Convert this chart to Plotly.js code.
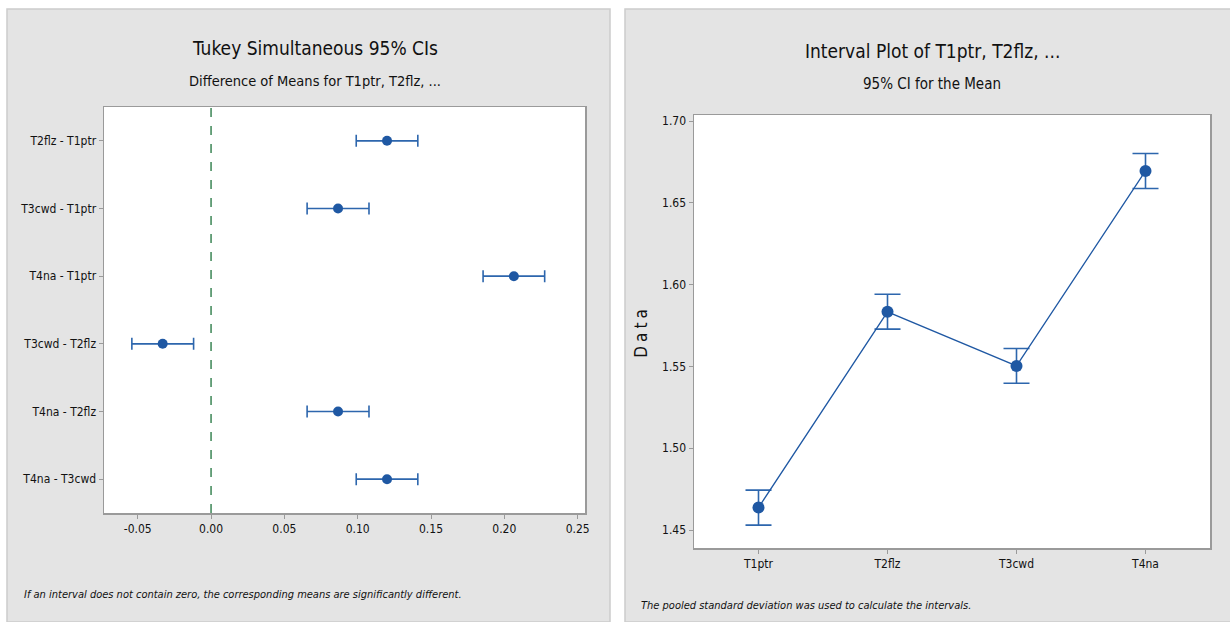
<!DOCTYPE html>
<html><head><meta charset="utf-8">
<script src="https://cdn.plot.ly/plotly-3.0.1.min.js"></script>
<style>html,body{margin:0;padding:0;background:#fff}#c{width:1230px;height:622px}</style>
</head><body><div id="c"></div>
<script>
// Tukey comparisons (left panel)
const pairs = ["T2flz - T1ptr","T3cwd - T1ptr","T4na - T1ptr","T3cwd - T2flz","T4na - T2flz","T4na - T3cwd"];
const diffs = [0.1200, 0.0866, 0.2065, -0.0330, 0.0866, 0.1200];
const diffLow = [0.0990, 0.0655, 0.1855, -0.0540, 0.0655, 0.0990];
const diffHigh = [0.1410, 0.1077, 0.2275, -0.0119, 0.1077, 0.1410];
const diffTicks = [-0.05, 0.00, 0.05, 0.10, 0.15, 0.20, 0.25];
const diffTickText = ["-0.05","0.00","0.05","0.10","0.15","0.20","0.25"];

// Interval plot (right panel)
const groups = ["T1ptr","T2flz","T3cwd","T4na"];
const means = [1.4637, 1.5834, 1.5503, 1.6695];
const ciLow = [1.4530, 1.5728, 1.5397, 1.6588];
const ciHigh = [1.4744, 1.5941, 1.5610, 1.6802];
const dataTicks = [1.45, 1.50, 1.55, 1.60, 1.65, 1.70];
const dataTickText = ["1.45","1.50","1.55","1.60","1.65","1.70"];

const FONT = "'DejaVu Sans Condensed', Roboto, sans-serif";
const BLUE = "#1f58a3";
const W = 1230, H = 622;
const px = x => x / W, py = y => 1 - y / H;

const t1 = {
  type: "scatter", mode: "markers", x: diffs, y: pairs, xaxis: "x", yaxis: "y",
  marker: {color: BLUE, size: 10},
  error_x: {type: "data", symmetric: false,
    array: diffs.map((d,i) => diffHigh[i] - d), arrayminus: diffs.map((d,i) => d - diffLow[i]),
    color: "#2d66ad", thickness: 1.6, width: 6},
  hoverinfo: "x+y", showlegend: false
};
const t2 = {
  type: "scatter", mode: "lines+markers", x: groups, y: means, xaxis: "x2", yaxis: "y2",
  line: {color: BLUE, width: 1.3},
  marker: {color: BLUE, size: 12},
  error_y: {type: "data", symmetric: false,
    array: means.map((m,i) => ciHigh[i] - m), arrayminus: means.map((m,i) => m - ciLow[i]),
    color: "#2d66ad", thickness: 1.6, width: 13},
  showlegend: false
};

const axCommon = {
  showgrid: false, zeroline: false, showline: true, mirror: true,
  linecolor: "#9a9a9a", linewidth: 1.5,
  ticks: "outside", ticklen: 4, tickcolor: "#9a9a9a", tickwidth: 1,
  tickfont: {family: FONT, size: 12, color: "#111"}
};

function ann(x, y, text, size, anchor) {
  return {xref: "paper", yref: "paper", x: px(x), y: py(y), text: text, showarrow: false,
    xanchor: anchor || "center", yanchor: "middle", font: {family: FONT, size: size, color: "#111"}};
}

const layout = {
  width: W, height: H, margin: {l: 0, r: 0, t: 0, b: 0},
  paper_bgcolor: "#ffffff", plot_bgcolor: "#ffffff", showlegend: false,
  xaxis: Object.assign({}, axCommon, {domain: [px(104), px(585)], anchor: "y",
    range: [-0.073, 0.255], tickvals: diffTicks, ticktext: diffTickText}),
  yaxis: Object.assign({}, axCommon, {domain: [py(513), py(107)], anchor: "x",
    type: "category", categoryorder: "array", categoryarray: pairs,
    range: [5.5, -0.5]}),
  xaxis2: Object.assign({}, axCommon, {domain: [px(694), px(1210)], anchor: "y2",
    type: "category", range: [-0.5, 3.5]}),
  yaxis2: Object.assign({}, axCommon, {domain: [py(548), py(115)], anchor: "x2",
    range: [1.439, 1.7037], tickvals: dataTicks, ticktext: dataTickText,
    title: {text: "Data", font: {family: FONT, size: 17, color: "#111"}, standoff: 10}}),
  shapes: [
    {type: "rect", xref: "paper", yref: "paper", x0: px(7), x1: px(610), y0: 0, y1: py(9),
      fillcolor: "#e4e4e4", line: {color: "#cccccc", width: 1.5}, layer: "below"},
    {type: "rect", xref: "paper", yref: "paper", x0: px(625), x1: 1.01, y0: 0, y1: py(9),
      fillcolor: "#e4e4e4", line: {color: "#cccccc", width: 1.5}, layer: "below"},
    {type: "rect", xref: "paper", yref: "paper", x0: px(104), x1: px(585), y0: py(513), y1: py(107),
      fillcolor: "#ffffff", line: {width: 0}, layer: "below"},
    {type: "rect", xref: "paper", yref: "paper", x0: px(694), x1: px(1210), y0: py(548), y1: py(115),
      fillcolor: "#ffffff", line: {width: 0}, layer: "below"},
    {type: "line", xref: "x", yref: "y domain", x0: 0, x1: 0, y0: 0, y1: 1,
      line: {color: "#2e7d4a", width: 1.4, dash: "dash"}, layer: "above"}
  ],
  annotations: [
    ann(315, 48, "Tukey Simultaneous 95% CIs", 19),
    ann(315, 81, "Difference of Means for T1ptr, T2flz, ...", 14.5),
    ann(932, 51, "Interval Plot of T1ptr, T2flz, ...", 19),
    ann(932, 84, "95% CI for the Mean", 15),
    ann(22, 594, "<i>If an interval does not contain zero, the corresponding means are significantly different.</i>", 11, "left"),
    ann(639, 605, "<i>The pooled standard deviation was used to calculate the intervals.</i>", 11, "left")
  ]
};

Plotly.newPlot("c", [t1, t2], layout, {displayModeBar: false, staticPlot: true}).then(() => {
  document.querySelectorAll(".g-y2title text").forEach(t => t.style.letterSpacing = "4px");
});
</script></body></html>
